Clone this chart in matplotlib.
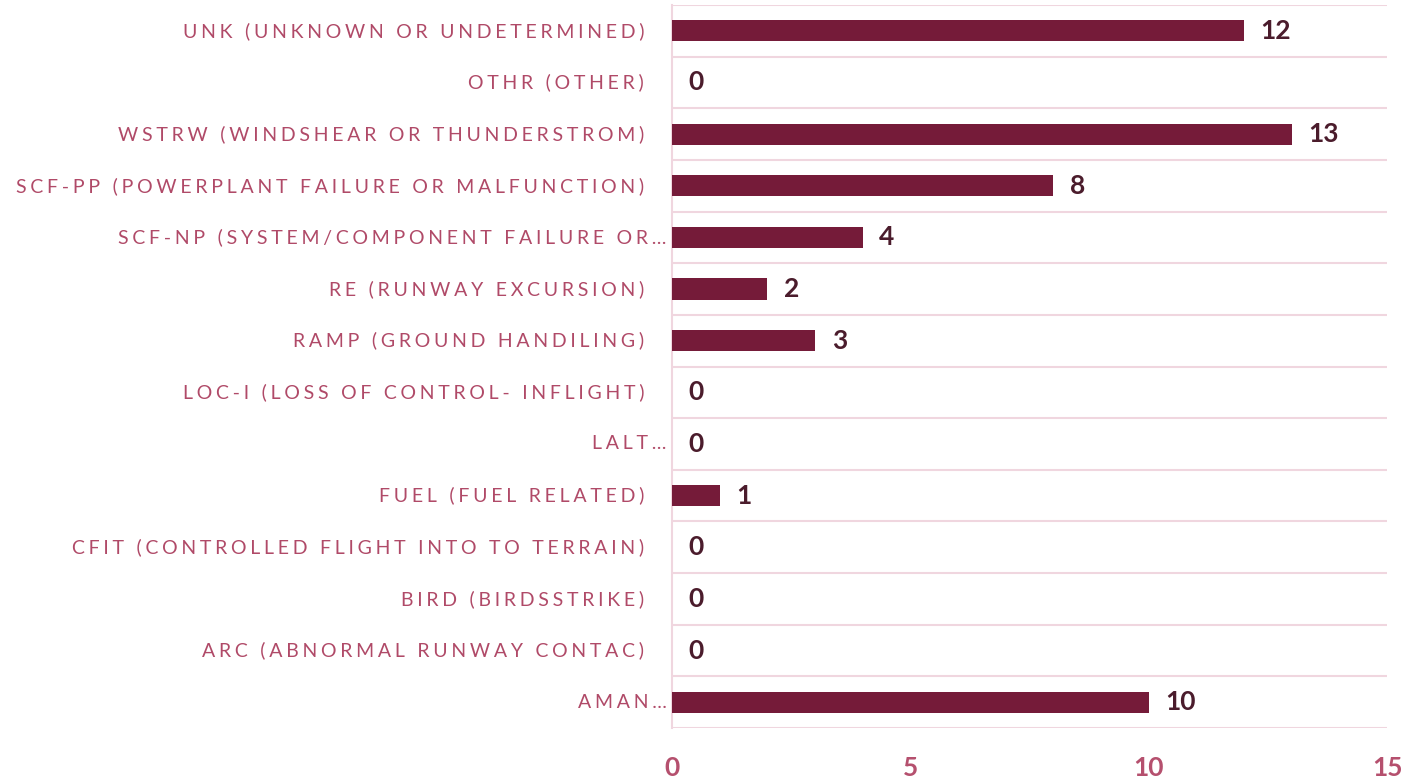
import matplotlib
matplotlib.use("Agg")
import matplotlib.pyplot as plt
import numpy as np

# categories top to bottom, as in the reference
categories = [
    "UNK (UNKNOWN OR UNDETERMINED)",
    "OTHR (OTHER)",
    "WSTRW (WINDSHEAR OR THUNDERSTROM)",
    "SCF-PP (POWERPLANT FAILURE OR MALFUNCTION)",
    "SCF-NP (SYSTEM/COMPONENT FAILURE OR…",
    "RE (RUNWAY EXCURSION)",
    "RAMP (GROUND HANDILING)",
    "LOC-I (LOSS OF CONTROL- INFLIGHT)",
    "LALT…",
    "FUEL (FUEL RELATED)",
    "CFIT (CONTROLLED FLIGHT INTO TO TERRAIN)",
    "BIRD (BIRDSSTRIKE)",
    "ARC (ABNORMAL RUNWAY CONTAC)",
    "AMAN…",
]
counts = [12, 0, 13, 8, 4, 2, 3, 0, 0, 1, 0, 0, 0, 10]
x_ticks = [0, 5, 10, 15]

bar_color = "#751b39"
label_color = "#b04a68"
value_color = "#4b1c2c"
grid_color = "#f0d6df"

FONT = ["Lato", "DejaVu Sans"]
GAP = "\u2009\u200a"


def spaced(s):
    # fake the letter spacing of the original labels
    return GAP.join(s)


fig = plt.figure(figsize=(14.08, 7.82), dpi=100)
fig.patch.set_facecolor("white")
ax = fig.add_axes([672 / 1408, 1 - 728 / 782, 715 / 1408, 723 / 782])

y = np.arange(len(categories))
ax.barh(y, counts, height=0.41, color=bar_color, zorder=3)

ax.set_xlim(0, 15)
ax.set_ylim(len(categories) - 0.5, -0.5)

# horizontal lines between the rows
ax.set_yticks(np.arange(-0.5, len(categories) + 0.5, 1), minor=True)
ax.set_yticks([])
ax.grid(axis="y", which="minor", color=grid_color, linewidth=1.5, zorder=0)
ax.tick_params(axis="y", which="both", length=0)

for side in ["top", "right", "bottom"]:
    ax.spines[side].set_visible(False)
ax.spines["left"].set_color(grid_color)
ax.spines["left"].set_linewidth(1.5)

ax.set_xticks(x_ticks)
ax.set_xticklabels([str(t) for t in x_ticks])
ax.tick_params(axis="x", length=0, pad=20, labelsize=19, labelcolor="#b5506e")
for lbl in ax.get_xticklabels():
    lbl.set_fontweight("bold")
    lbl.set_family(FONT)

# category labels
for yi, name in zip(y, categories):
    pad = -4 if name.endswith("…") else -20
    ax.annotate(spaced(name), xy=(0, yi), xycoords=("axes fraction", "data"),
                xytext=(pad, 0), textcoords="offset points",
                ha="right", va="center", fontsize=14, color=label_color,
                family=FONT)

# value labels
for yi, v in zip(y, counts):
    ax.annotate(str(v), xy=(v, yi), xytext=(12, 0), textcoords="offset points",
                ha="left", va="center", fontsize=19, fontweight="bold",
                color=value_color, family=FONT)

fig.savefig("out.png", dpi=100)
